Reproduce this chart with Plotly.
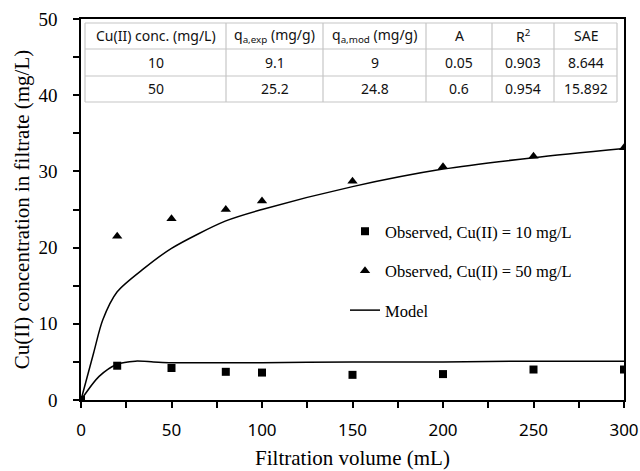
import plotly.graph_objects as go

# ---- data ----
vol_obs = [0, 20, 50, 80, 100, 150, 200, 250, 300]
obs_10 = [0, 4.5, 4.2, 3.7, 3.6, 3.3, 3.4, 4.0, 4.0]
obs_50 = [0, 21.5, 23.8, 25.0, 26.1, 28.7, 30.6, 32.0, 33.1]

vol_mod10 = [0, 10, 20, 30, 40, 50, 100, 150, 200, 250, 300]
mod_10 = [0, 3.1, 4.7, 5.1, 5.0, 4.9, 4.9, 5.0, 5.0, 5.1, 5.1]
vol_mod50 = [0, 7, 12, 20, 35, 50, 80, 100, 150, 200, 250, 300]
mod_50 = [0, 6.2, 10.5, 14.2, 17.3, 19.9, 23.5, 25.0, 28.0, 30.3, 31.8, 33.0]

table_header = ["Cu(II) conc. (mg/L)", "q<sub>a,exp</sub> (mg/g)", "q<sub>a,mod</sub> (mg/g)",
                "A", "R<sup>2</sup>", "SAE"]
table_rows = [["10", "9.1", "9", "0.05", "0.903", "8.644"],
              ["50", "25.2", "24.8", "0.6", "0.954", "15.892"]]

x_ticks = [0, 50, 100, 150, 200, 250, 300]
y_ticks = [0, 10, 20, 30, 40, 50]

# ---- layout geometry (pixels) ----
W, H = 640, 471
L, R, T, B = 81, 16, 19, 71
pw, ph = W - L - R, H - T - B
col_px = [85, 226, 323, 426, 492, 554, 617]
row_px = [23, 49, 76, 102]

def px_x(p):
    return (p - L) / pw

def px_y(p):
    return (H - B - p) / ph

SERIF = "Liberation Serif, Times New Roman, serif"
SANS = "Noto Sans, Open Sans, sans-serif"

fig = go.Figure()
fig.add_trace(go.Scatter(x=vol_obs, y=obs_10, mode="markers", name="Observed, Cu(II) = 10 mg/L",
                         marker=dict(symbol="square", size=8, color="black"), legendgroup="a"))
fig.add_trace(go.Scatter(x=vol_obs, y=obs_50, mode="markers", name="Observed, Cu(II) = 50 mg/L",
                         marker=dict(symbol="triangle-up", size=9, color="black"), legendgroup="b"))
fig.add_trace(go.Scatter(x=vol_mod10, y=mod_10, mode="lines", name="Model",
                         line=dict(color="black", width=1.5, shape="spline", smoothing=0.8),
                         legendgroup="c"))
fig.add_trace(go.Scatter(x=vol_mod50, y=mod_50, mode="lines", name="Model", showlegend=False,
                         line=dict(color="black", width=1.5, shape="spline", smoothing=0.8),
                         legendgroup="c"))

shapes = []
grey = "#c6c6c6"
for xp in col_px:
    shapes.append(dict(type="line", xref="paper", yref="paper", x0=px_x(xp), x1=px_x(xp),
                       y0=px_y(row_px[0]), y1=px_y(row_px[-1]), line=dict(color=grey, width=1.2)))
for yp in row_px:
    shapes.append(dict(type="line", xref="paper", yref="paper", x0=px_x(col_px[0]), x1=px_x(col_px[-1]),
                       y0=px_y(yp), y1=px_y(yp), line=dict(color=grey, width=1.2)))

annotations = []
all_rows = [table_header] + table_rows
for ri, row in enumerate(all_rows):
    yc = (row_px[ri] + row_px[ri + 1]) / 2
    for ci, txt in enumerate(row):
        xc = (col_px[ci] + col_px[ci + 1]) / 2
        annotations.append(dict(x=px_x(xc), y=px_y(yc), xref="paper", yref="paper", text=txt,
                                showarrow=False, xanchor="center", yanchor="middle",
                                font=dict(family=SANS, size=14, color="#111")))

fig.update_layout(
    width=W, height=H,
    margin=dict(l=L, r=R, t=T, b=B, pad=0, autoexpand=False),
    paper_bgcolor="white", plot_bgcolor="white",
    shapes=shapes, annotations=annotations,
    showlegend=True,
    legend=dict(x=px_x(345), y=px_y(214), xanchor="left", yanchor="top",
                bgcolor="rgba(0,0,0,0)", borderwidth=0,
                font=dict(family=SERIF, size=16.5, color="black"),
                traceorder="grouped", tracegroupgap=15, itemwidth=30),
    xaxis=dict(range=[0, 300], tickvals=x_ticks, ticks="outside", ticklen=6, tickwidth=1.5,
               tickcolor="black", ticklabelstandoff=8, automargin=False,
               minor=dict(dtick=25, tick0=0, ticks="outside", ticklen=6, tickwidth=1.5, tickcolor="black"),
               showline=True, linecolor="black", linewidth=1.5, mirror=True, showgrid=False,
               zeroline=False, tickfont=dict(family=SANS, size=17, color="black"),
               title=dict(text="Filtration volume (mL)", font=dict(family=SERIF, size=21, color="black"),
                          standoff=10)),
    yaxis=dict(range=[0, 50], tickvals=y_ticks, ticks="outside", ticklen=6, tickwidth=1.5,
               tickcolor="black", ticklabelstandoff=12, automargin=False,
               minor=dict(dtick=5, tick0=0, ticks="outside", ticklen=6, tickwidth=1.5, tickcolor="black"),
               showline=True, linecolor="black", linewidth=1.5, mirror=True, showgrid=False,
               zeroline=False, tickfont=dict(family=SERIF, size=19, color="black"),
               title=dict(text="Cu(II) concentration in filtrate (mg/L)",
                          font=dict(family=SERIF, size=21, color="black"), standoff=3)),
)

fig.write_html("out.html")
